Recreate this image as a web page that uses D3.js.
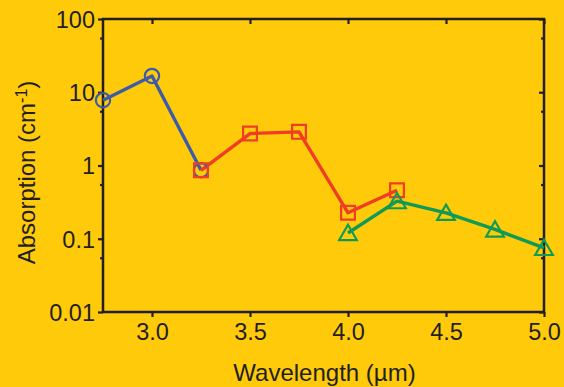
<!DOCTYPE html>
<html>
<head>
<meta charset="utf-8">
<script src="https://cdn.jsdelivr.net/npm/d3@7"></script>
<style>
  html, body { margin: 0; padding: 0; background: #FFCA0A; }
  svg { display: block; }
  text { font-family: "Liberation Sans", Arial, sans-serif; fill: #231F20; }
</style>
</head>
<body>
<svg id="chart" width="564" height="387"></svg>
<script>
// Absorption spectra, three measurement ranges
const blueX = [2.75, 3.0, 3.25];
const blueY = [7.8, 16.7, 0.86];
const redX = [3.25, 3.5, 3.75, 4.0, 4.25];
const redY = [0.86, 2.73, 2.88, 0.226, 0.46];
const greenX = [4.0, 4.25, 4.5, 4.75, 5.0];
const greenY = [0.12, 0.326, 0.226, 0.134, 0.075];

const xTicks = [3.0, 3.5, 4.0, 4.5, 5.0];
const yTicks = [0.01, 0.1, 1, 10, 100];
const yTickLabels = ["0.01", "0.1", "1", "10", "100"];
const yMinorTicks = [0.055, 0.55, 5.5, 55];

const W = 564, H = 387;
const m = { left: 103, right: 20, top: 19, bottom: 75 };
const ink = "#231F20";

const svg = d3.select("#chart");
svg.append("rect").attr("width", W).attr("height", H).attr("fill", "#FFCA0A");

const x = d3.scaleLinear().domain([2.75, 5.0]).range([m.left, W - m.right]);
const y = d3.scaleLog().domain([0.01, 100]).range([H - m.bottom, m.top]);

const fmtY = d => yTickLabels[yTicks.indexOf(d)];

// bottom axis
const gx = svg.append("g").attr("transform", `translate(0,${H - m.bottom})`)
  .call(d3.axisBottom(x).tickValues(xTicks).tickFormat(d3.format(".1f")).tickSize(5).tickPadding(5));
// top axis (mirrored ticks pointing inward)
const gxt = svg.append("g").attr("transform", `translate(0,${m.top})`)
  .call(d3.axisBottom(x).tickValues(xTicks).tickFormat("").tickSize(5));
// left axis
const gy = svg.append("g").attr("transform", `translate(${m.left},0)`)
  .call(d3.axisLeft(y).tickValues(yTicks).tickFormat(fmtY).tickSize(5).tickPadding(3));
const gym = svg.append("g").attr("transform", `translate(${m.left},0)`)
  .call(d3.axisLeft(y).tickValues(yMinorTicks).tickFormat("").tickSize(3));
// right axis (ticks pointing inward)
const gyr = svg.append("g").attr("transform", `translate(${W - m.right},0)`)
  .call(d3.axisLeft(y).tickValues(yTicks).tickFormat("").tickSize(5));
const gyrm = svg.append("g").attr("transform", `translate(${W - m.right},0)`)
  .call(d3.axisLeft(y).tickValues(yMinorTicks).tickFormat("").tickSize(3));

[gx, gxt, gy, gym, gyr, gyrm].forEach(g => {
  g.select(".domain").remove();
  g.selectAll(".tick line").attr("stroke", ink).attr("stroke-width", 2.2);
  g.selectAll(".tick text").attr("font-size", 23.5).attr("fill", ink)
    .style("font-family", "'Liberation Sans', Arial, sans-serif");
});
gx.selectAll(".tick text").attr("dy", "0.78em");
gy.selectAll(".tick text").attr("dy", "0.36em");

// frame
svg.append("rect")
  .attr("x", x(2.75)).attr("y", y(100))
  .attr("width", x(5.0) - x(2.75)).attr("height", y(0.01) - y(100))
  .attr("fill", "none").attr("stroke", ink).attr("stroke-width", 2.5);

// series
const line = d3.line().x(d => x(d[0])).y(d => y(d[1]));
const zip = (a, b) => a.map((v, i) => [v, b[i]]);

const series = [
  { pts: zip(blueX, blueY), color: "#3D5CA8", shape: "circle" },
  { pts: zip(redX, redY), color: "#EF3E25", shape: "square" },
  { pts: zip(greenX, greenY), color: "#0F9A55", shape: "triangle" }
];

const symbols = { circle: d3.symbolCircle, square: d3.symbolSquare, triangle: d3.symbolTriangle };
const sizes = { circle: 160, square: 190, triangle: 135 };

series.forEach(s => {
  svg.append("path").datum(s.pts).attr("d", line)
    .attr("fill", "none").attr("stroke", s.color).attr("stroke-width", 3.4)
    .attr("stroke-linejoin", "round");
});
series.forEach(s => {
  svg.selectAll(null).data(s.pts).enter().append("path")
    .attr("d", d3.symbol().type(symbols[s.shape]).size(sizes[s.shape]))
    .attr("transform", d => `translate(${x(d[0])},${y(d[1]) + (s.shape === "triangle" ? 2 : 0)})`)
    .attr("fill", "none").attr("stroke", s.color).attr("stroke-width", 2.2);
});

// axis titles
svg.append("text").attr("x", (x(2.75) + x(5.0)) / 2 + 1).attr("y", 381)
  .attr("text-anchor", "middle").attr("font-size", 24).text("Wavelength (µm)");

const yt = svg.append("text")
  .attr("transform", `translate(35,${(y(0.01) + y(100)) / 2 + 7}) rotate(-90)`)
  .attr("text-anchor", "middle").attr("font-size", 24);
yt.append("tspan").text("Absorption (cm");
yt.append("tspan").attr("dy", -8).attr("font-size", 16).text("-1");
yt.append("tspan").attr("dy", 8).text(")");
</script>
</body>
</html>
